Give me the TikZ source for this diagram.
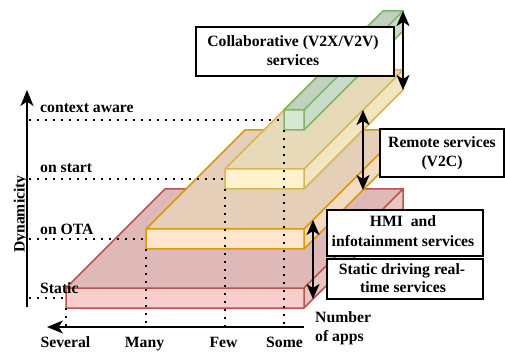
\documentclass[tikz,border=0pt]{standalone}
\usepackage{fontspec}
\setmainfont{Liberation Serif}
\usetikzlibrary{arrows.meta}

% slab colours: front face, darker top, slightly darker side, outline
\definecolor{redfront}{HTML}{F8CECC}
\definecolor{redtop}{HTML}{DFB9B8}
\definecolor{redside}{HTML}{EBC4C2}
\definecolor{redline}{HTML}{B85450}
\definecolor{orangefront}{HTML}{FFE6CC}
\definecolor{orangetop}{HTML}{E6CFB8}
\definecolor{orangeside}{HTML}{F2DBC2}
\definecolor{orangeline}{HTML}{D79B00}
\definecolor{yellowfront}{HTML}{FFF2CC}
\definecolor{yellowtop}{HTML}{E6DAB8}
\definecolor{yellowside}{HTML}{F2E6C2}
\definecolor{yellowline}{HTML}{D6B656}
\definecolor{greenfront}{HTML}{D5E8D4}
\definecolor{greentop}{HTML}{C0D1BF}
\definecolor{greenside}{HTML}{CADCCA}
\definecolor{greenline}{HTML}{82B366}

\tikzset{
  lbl/.style={font=\fontsize{15.7}{19}\selectfont\bfseries, inner sep=0pt},
  infobox/.style={draw, line width=2pt, fill=white, inner sep=0pt, anchor=north west},
  slabedge/.style={line width=1.5pt, line join=miter},
  dots/.style={line width=1.8pt, dash pattern=on 1.8pt off 6.2pt},
  axis/.style={line width=2pt, -{Stealth[length=16pt, width=13pt, inset=4.5pt]}},
  twoway/.style={line width=2pt,
    {Stealth[length=15pt, width=13pt, inset=4pt]}-{Stealth[length=15pt, width=13pt, inset=4pt]}},
}

% one slab: #1 left x, #2 right x, #3 y of the front top edge, #4 colour prefix
% depth runs 99 units up and to the right, front face is 20 high
\newcommand{\drawslab}[4]{%
  \fill[#4side] (#2,#3) -- (#2+99,#3-99) -- (#2+99,#3-79) -- (#2,#3+20) -- cycle;
  \fill[#4top] (#1,#3) -- (#1+99,#3-99) -- (#2+99,#3-99) -- (#2,#3) -- cycle;
  \fill[#4front] (#1,#3) rectangle (#2,#3+20);
  \draw[slabedge, #4line] (#1,#3+20) -- (#1,#3) -- (#1+99,#3-99) -- (#2+99,#3-99)
    -- (#2+99,#3-79) -- (#2,#3+20) -- cycle
    (#1,#3) -- (#2,#3) -- (#2+99,#3-99)
    (#2,#3) -- (#2,#3+20);
  \coordinate (#4-ml) at (#1,#3+10);
  \coordinate (#4-bl) at (#1,#3+20);
  \coordinate (#4-tr) at (#2+99,#3-99);
  \coordinate (#4-br) at (#2+99,#3-79);
}

\begin{document}
\begin{tikzpicture}[x=1pt, y=-1pt]
  \useasboundingbox (0,0) rectangle (505,352);
  \fill[white] (0,0) rectangle (505,352);

  % stacked slabs, widest at the bottom
  \drawslab{66}{304}{288}{red}
  \drawslab{146}{304}{229}{orange}
  \drawslab{225}{304}{169}{yellow}
  \drawslab{284}{304}{110}{green}

  % axis ends and guide-line feet
  \coordinate (yfoot) at (27,307);
  \coordinate (ytip) at (27,90);
  \coordinate (xstart) at (304,327);
  \coordinate (xtip) at (47,327);
  \coordinate (hctx) at (29,120);
  \coordinate (hstart) at (29,179);
  \coordinate (hota) at (29,239);
  \coordinate (hstatic) at (29,298);
  \coordinate (vseveral) at (66,327);
  \coordinate (vmany) at (146,327);
  \coordinate (vfew) at (225,327);
  \coordinate (vsome) at (284,327);

  % dotted guide lines
  \draw[dots] (hctx) -- (green-ml);
  \draw[dots] (hstart) -- (yellow-ml);
  \draw[dots] (hota) -- (orange-ml);
  \draw[dots] (hstatic) -- (red-ml);
  \draw[dots] (red-bl) -- (vseveral);
  \draw[dots] (orange-bl) -- (vmany);
  \draw[dots] (yellow-bl) -- (vfew);
  \draw[dots] (green-bl) -- (vsome);

  % axes
  \draw[axis] (yfoot) -- (ytip);
  \draw[axis] (xstart) -- (xtip);

  % axis labels
  \node[lbl, rotate=90, anchor=base] (dyn) at (24.5,214) {Dynamicity};
  \node[lbl, anchor=base west] (lctx) at (40,113) {context aware};
  \node[lbl, anchor=base west] (lstart) at (40,173) {on start};
  \node[lbl, anchor=base west] (lota) at (40,234.5) {on OTA};
  \node[lbl, anchor=base west] (lstatic) at (40,293) {Static};
  \node[lbl, anchor=base] (tseveral) at (65.5,347) {Several};
  \node[lbl, anchor=base] (tmany) at (144.5,347) {Many};
  \node[lbl, anchor=base] (tfew) at (223.5,347) {Few};
  \node[lbl, anchor=base] (tsome) at (284.5,347) {Some};
  \node[lbl, anchor=base west] (napps1) at (315,322) {Number};
  \node[lbl, anchor=base west] (napps2) at (315,341) {of apps};

  % spans between levels
  \coordinate (rtop) at (363,110);
  \coordinate (rbot) at (363,190);
  \coordinate (htop) at (313,220);
  \coordinate (hbot) at (313,299);
  \draw[twoway] (green-tr) -- (yellow-br);
  \draw[twoway] (rtop) -- (rbot);
  \draw[twoway] (htop) -- (hbot);

  % service boxes
  \node[infobox, minimum width=198pt, minimum height=49pt] (collab) at (195,26) {};
  \node[lbl, anchor=base] (collab1) at (293,47) {Collaborative (V2X/V2V)};
  \node[lbl, anchor=base] (collab2) at (293,65.5) {services};

  \node[infobox, minimum width=124pt, minimum height=48pt] (remote) at (379,128) {};
  \node[lbl, anchor=base] (remote1) at (442,148) {Remote services};
  \node[lbl, anchor=base] (remote2) at (442,166.5) {(V2C)};

  \node[infobox, minimum width=156pt, minimum height=46pt] (hmi) at (326,209) {};
  \node[lbl, anchor=base] (hmi1) at (403,227) {HMI\ \ and};
  \node[lbl, anchor=base] (hmi2) at (403,246.5) {infotainment services};

  \node[infobox, minimum width=156pt, minimum height=40pt] (static) at (326,258) {};
  \node[lbl, anchor=base] (static1) at (402,274) {Static driving real-};
  \node[lbl, anchor=base] (static2) at (403,292.5) {time services};
\end{tikzpicture}
\end{document}
